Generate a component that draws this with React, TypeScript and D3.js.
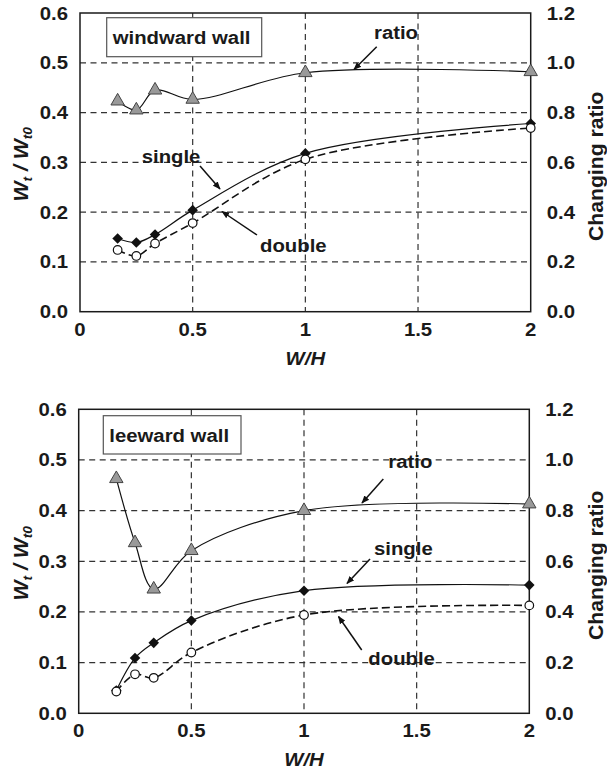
import React from "react";
import * as d3 from "d3";

// W/H values shared by every series
const wh = [0.167, 0.25, 0.333, 0.5, 1, 2];
const xTicks = [0, 0.5, 1, 1.5, 2];
const xTickLabels = ["0", "0.5", "1", "1.5", "2"];
const leftTicks = [0, 0.1, 0.2, 0.3, 0.4, 0.5, 0.6];
const leftTickLabels = ["0.0", "0.1", "0.2", "0.3", "0.4", "0.5", "0.6"];
const rightTicks = [0, 0.2, 0.4, 0.6, 0.8, 1.0, 1.2];
const rightTickLabels = ["0.0", "0.2", "0.4", "0.6", "0.8", "1.0", "1.2"];

// windward wall
const windSingle = [0.147, 0.139, 0.155, 0.204, 0.318, 0.378];
const windDouble = [0.124, 0.112, 0.137, 0.178, 0.306, 0.369];
const windRatio = [0.846, 0.81, 0.89, 0.853, 0.96, 0.964];

// leeward wall
const leeSingle = [0.045, 0.109, 0.139, 0.183, 0.242, 0.253];
const leeDouble = [0.043, 0.077, 0.07, 0.12, 0.194, 0.213];
const leeRatio = [0.926, 0.673, 0.49, 0.642, 0.8, 0.826];

const FONT = "'Liberation Sans', Arial, Helvetica, sans-serif";
const SX = 1.13; // the original lettering is a bit wider than Arial
const FS = 18;

type Frame = { left: number; right: number; top: number; bottom: number };
type Note = { text: string; tx: number; ty: number; from: [number, number]; to: [number, number] };

const T = ({ x, y, anchor = "start", children, italic = false, size = FS }: any) => (
  <g transform={`translate(${x},${y}) scale(${SX},1)`}>
    <text
      textAnchor={anchor}
      fontFamily={FONT}
      fontWeight="bold"
      fontStyle={italic ? "italic" : "normal"}
      fontSize={size}
      fill="#1a1a1a"
    >
      {children}
    </text>
  </g>
);

const triPath = d3.symbol(d3.symbolTriangle, 78)() as string;
const diaPath = d3.symbol(d3.symbolSquare, 56)() as string;

function Panel({
  frame,
  single,
  double,
  ratio,
  title,
  box,
  notes,
}: {
  frame: Frame;
  single: number[];
  double: number[];
  ratio: number[];
  title: string;
  box: { x: number; y: number; w: number; h: number };
  notes: Note[];
}) {
  const x = d3.scaleLinear().domain([0, 2]).range([frame.left, frame.right]);
  const y = d3.scaleLinear().domain([0, 0.6]).range([frame.bottom, frame.top]);
  const yR = d3.scaleLinear().domain([0, 1.2]).range([frame.bottom, frame.top]);
  const curve = d3.curveCatmullRom.alpha(0.5);

  const lineL = d3
    .line<number>()
    .x((_, i) => x(wh[i]))
    .y((d) => y(d))
    .curve(curve);
  const lineR = d3
    .line<number>()
    .x((_, i) => x(wh[i]))
    .y((d) => yR(d))
    .curve(curve);

  const midY = (frame.top + frame.bottom) / 2;
  const midX = (frame.left + frame.right) / 2;

  return (
    <g>
      {/* grid */}
      {leftTicks.slice(1, -1).map((t) => (
        <line
          key={"h" + t}
          x1={frame.left}
          x2={frame.right}
          y1={y(t)}
          y2={y(t)}
          stroke="#333"
          strokeWidth={1.2}
          strokeDasharray="6,4.5"
        />
      ))}
      {xTicks.slice(1, -1).map((t) => (
        <line
          key={"v" + t}
          x1={x(t)}
          x2={x(t)}
          y1={frame.top}
          y2={frame.bottom}
          stroke="#333"
          strokeWidth={1.2}
          strokeDasharray="6,4.5"
        />
      ))}
      <rect
        x={frame.left}
        y={frame.top}
        width={frame.right - frame.left}
        height={frame.bottom - frame.top}
        fill="none"
        stroke="#1a1a1a"
        strokeWidth={1.5}
      />

      {/* title box */}
      <rect x={box.x} y={box.y} width={box.w} height={box.h} fill="#fff" stroke="#555" strokeWidth={1.2} />
      <T x={box.x + 6} y={box.y + 26}>{title}</T>

      {/* series lines */}
      <path d={lineR(ratio) || ""} fill="none" stroke="#111" strokeWidth={1.2} />
      <path d={lineL(single) || ""} fill="none" stroke="#111" strokeWidth={1.2} />
      <path d={lineL(double) || ""} fill="none" stroke="#111" strokeWidth={1.6} strokeDasharray="8,4" />

      {/* markers */}
      {ratio.map((d, i) => (
        <path
          key={"r" + i}
          d={triPath}
          transform={`translate(${x(wh[i])},${yR(d)})`}
          fill="#999"
          stroke="#444"
          strokeWidth={1}
        />
      ))}
      {single.map((d, i) => (
        <path key={"s" + i} d={diaPath} transform={`translate(${x(wh[i])},${y(d)}) rotate(45)`} fill="#111" />
      ))}
      {double.map((d, i) => (
        <circle key={"d" + i} cx={x(wh[i])} cy={y(d)} r={4.3} fill="#fff" stroke="#111" strokeWidth={1.2} />
      ))}

      {/* annotations */}
      {notes.map((n) => (
        <g key={n.text}>
          <line
            x1={n.from[0]}
            y1={n.from[1]}
            x2={n.to[0]}
            y2={n.to[1]}
            stroke="#111"
            strokeWidth={1.5}
            markerEnd="url(#ah)"
          />
          <T x={n.tx} y={n.ty}>{n.text}</T>
        </g>
      ))}

      {/* ticks */}
      {leftTicks.map((t, i) => (
        <T key={"lt" + t} x={frame.left - 12} y={y(t) + 6.5} anchor="end">
          {leftTickLabels[i]}
        </T>
      ))}
      {rightTicks.map((t, i) => (
        <T key={"rt" + t} x={frame.right + 16} y={yR(t) + 6.5}>
          {rightTickLabels[i]}
        </T>
      ))}
      {xTicks.map((t, i) => (
        <T key={"xt" + t} x={x(t)} y={frame.bottom + 24} anchor="middle">
          {xTickLabels[i]}
        </T>
      ))}

      {/* axis titles */}
      <T x={midX} y={frame.bottom + 53} anchor="middle" italic>
        W/H
      </T>
      <g transform={`translate(28,${midY + 2}) rotate(-90) scale(1.06,1)`}>
        <text textAnchor="middle" fontFamily={FONT} fontWeight="bold" fontStyle="italic" fontSize={20} fill="#1a1a1a">
          W<tspan fontSize={13} dy={4}>t</tspan>
          <tspan dy={-4}> / W</tspan>
          <tspan fontSize={13} dy={4}>t0</tspan>
        </text>
      </g>
      <g transform={`translate(603,${midY + 4}) rotate(-90) scale(1.06,1)`}>
        <text textAnchor="middle" fontFamily={FONT} fontWeight="bold" fontSize={20} fill="#1a1a1a">
          Changing ratio
        </text>
      </g>
    </g>
  );
}

export default function App() {
  return (
    <svg
      width={607}
      height={773}
      viewBox="0 0 607 773"
      style={{ position: "absolute", left: 0, top: 0, background: "#fff" }}
    >
      <defs>
        <marker
          id="ah"
          viewBox="0 0 10 10"
          refX="9"
          refY="5"
          markerWidth="8"
          markerHeight="8"
          markerUnits="userSpaceOnUse"
          orient="auto"
        >
          <path d="M0,1 L10,5 L0,9 z" fill="#111" />
        </marker>
      </defs>
      <rect width={607} height={773} fill="#fff" />
      <Panel
        frame={{ left: 80, right: 530.7, top: 13, bottom: 311.7 }}
        single={windSingle}
        double={windDouble}
        ratio={windRatio}
        title="windward wall"
        box={{ x: 106.7, y: 17.7, w: 155, h: 39 }}
        notes={[
          { text: "ratio", tx: 374, ty: 39.3, from: [376.7, 46.7], to: [354, 69.5] },
          { text: "single", tx: 141.7, ty: 163, from: [200, 166], to: [220, 189] },
          { text: "double", tx: 260, ty: 251.7, from: [257, 235], to: [222, 211.5] },
        ]}
      />
      <Panel
        frame={{ left: 78.7, right: 529.3, top: 409.3, bottom: 713.3 }}
        single={leeSingle}
        double={leeDouble}
        ratio={leeRatio}
        title="leeward wall"
        box={{ x: 103.3, y: 415.7, w: 137.7, h: 38.3 }}
        notes={[
          { text: "ratio", tx: 388.3, ty: 468.3, from: [383.3, 479], to: [362, 503] },
          { text: "single", tx: 374, ty: 555, from: [370, 559], to: [347, 583.5] },
          { text: "double", tx: 368.3, ty: 665, from: [361.7, 650], to: [338.5, 616.5] },
        ]}
      />
    </svg>
  );
}
